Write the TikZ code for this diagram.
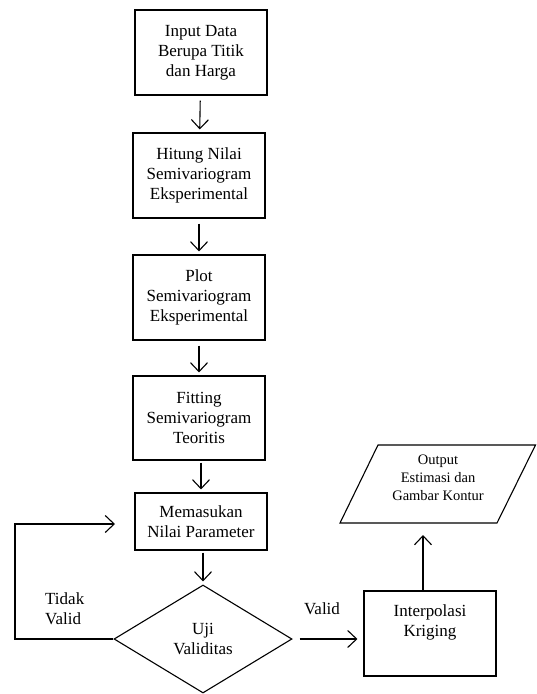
\documentclass[tikz,border=0pt]{standalone}
\usepackage{fontspec}
\setmainfont{Liberation Serif}
\usetikzlibrary{arrows.meta,shapes.geometric}
\begin{document}
\begin{tikzpicture}[x=1pt,y=-1pt,
  box/.style={draw, line width=1.1pt, minimum width=132pt, minimum height=85pt, inner sep=0pt, align=center, font=\fontsize{17}{20}\selectfont},
  arr/.style={-{Straight Barb[length=9pt,width=17pt]}, line width=1.1pt},
  lbl/.style={font=\fontsize{17}{20}\selectfont, inner sep=0pt, align=center},
  plain/.style={line width=1.1pt}]
\useasboundingbox (0,0) rectangle (537,694);
\node[box] (b1) at (201,52.5) {Input Data\\Berupa Titik\\dan Harga};
\node[box] (b2) at (199,175.5) {Hitung Nilai\\Semivariogram\\Eksperimental};
\node[box] (b3) at (199,297.5) {Plot\\Semivariogram\\Eksperimental};
\node[box, minimum height=84pt] (b4) at (199,418) {Fitting\\Semivariogram\\Teoritis};
\node[box, minimum height=57pt] (b5) at (201,521.5) {Memasukan\\Nilai Parameter};
\node[draw, plain, shape=diamond, minimum width=178pt, minimum height=108pt, inner sep=0pt, aspect=1.65, align=center, font=\fontsize{17}{20}\selectfont] (dia) at (203,639) {Uji\\Validitas};
\node[box, minimum height=85pt] (krig) at (430,633.5) {};
\node[lbl] (krigtxt) at (430,622) {Interpolasi\\Kriging};
\draw[plain] (378,445) -- (535.5,445) -- (497,523) -- (340,523) -- cycle;
\node[lbl, font=\fontsize{14.5}{18}\selectfont] (outtxt) at (438,478) {Output\\Estimasi dan\\Gambar Kontur};
\coordinate (outarr) at (423,535);
\coordinate (fb1) at (15,639);
\coordinate (fb2) at (15,524);
\coordinate (fbend) at (115,524);
\node[lbl, align=left, anchor=west] (tv) at (45,609) {Tidak\\Valid};
\node[lbl] (vl) at (322,609) {Valid};
\draw[arr, shorten <=5pt, shorten >=3pt] (b1) -- (b2);
\draw[arr, shorten <=5pt, shorten >=3pt] (b2) -- (b3);
\draw[arr, shorten <=5pt, shorten >=3pt] (b3) -- (b4);
\draw[arr, shorten <=2pt, shorten >=3pt] (b4.south -| b5) -- (b5);
\draw[arr, shorten <=2pt, shorten >=3pt] (b5.south -| dia) -- (dia);
\draw[arr, shorten <=7pt, shorten >=6pt] (dia.east) -- (dia.east -| krig.west);
\draw[arr] (outarr |- krig.north) -- (outarr);
\draw[arr] (dia.west) -- (fb1) -- (fb2) -- (fbend);
\end{tikzpicture}
\end{document}
